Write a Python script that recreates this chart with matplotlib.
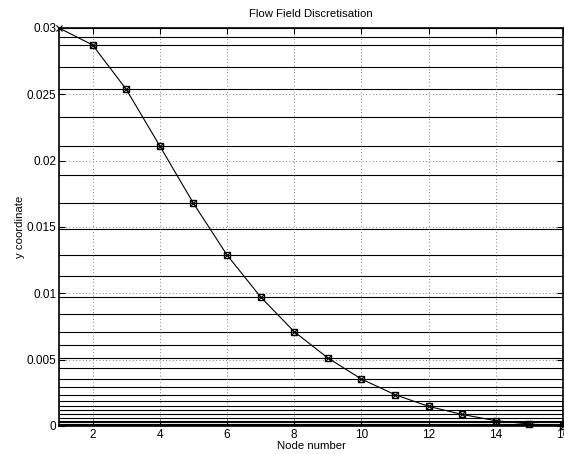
import matplotlib
matplotlib.use("Agg")
import matplotlib.pyplot as plt

plt.rcParams['font.family'] = ['Liberation Sans', 'DejaVu Sans']

node_number = [1, 2, 3, 4, 5, 6, 7, 8, 9, 10, 11, 12, 13, 14, 15, 16]
node_y = [0.03, 0.02872, 0.02538, 0.02111, 0.01679, 0.01289, 0.00973, 0.00711,
          0.00513, 0.00354, 0.00236, 0.00148, 0.00087, 0.00040, 0.00015, 0.0]
face_y = [0.02935, 0.02706, 0.02327, 0.01894, 0.01483, 0.01127, 0.00842, 0.00611,
          0.00434, 0.00295, 0.00192, 0.00118, 0.00064, 0.00028, 0.00008]
x_ticks = [2, 4, 6, 8, 10, 12, 14, 16]
y_ticks = [0, 0.005, 0.01, 0.015, 0.02, 0.025, 0.03]
y_ticklabels = ['0', '0.005', '0.01', '0.015', '0.02', '0.025', '0.03']

fig = plt.figure(figsize=(5.64, 4.54), dpi=100)
ax = fig.add_axes([59/564, 28/454, 504/564, 398/454])

for v in node_y + face_y:
    ax.axhline(v, color='black', lw=0.8, zorder=1)

ax.plot(node_number, node_y, color='black', lw=0.8, marker='x', ms=4.5,
        mew=0.8, clip_on=False, zorder=3)
ax.plot(node_number[1:], node_y[1:], ls='none', marker='s', ms=5, mfc='none',
        mec='black', mew=1.0, clip_on=False, zorder=4)

ax.set_xlim(1, 16)
ax.set_ylim(0, 0.03)
ax.set_xticks(x_ticks)
ax.set_yticks(y_ticks)
ax.set_yticklabels(y_ticklabels)
ax.grid(True, color='#555555', ls=(0, (1, 3)), lw=0.6)
ax.tick_params(direction='in', top=True, right=True, length=4, width=0.8,
               labelsize=8.5, pad=2)
for s in ax.spines.values():
    s.set_linewidth(1.2)

ax.set_title('Flow Field Discretisation', fontsize=8.2, pad=8)
ax.set_xlabel('Node number', fontsize=8.2, labelpad=0.5)
ax.set_ylabel('y coordinate', fontsize=8.2, labelpad=1)

fig.savefig('out.png', dpi=100)
